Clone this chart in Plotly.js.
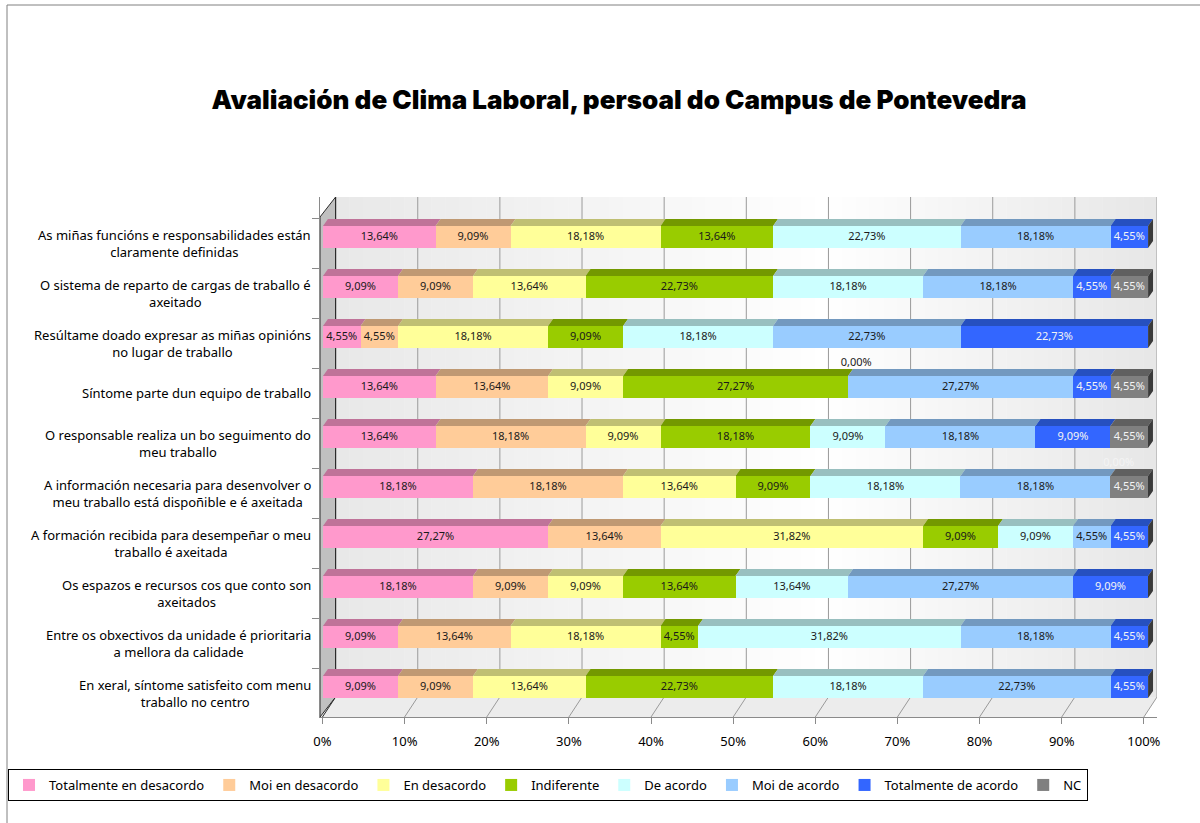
<!DOCTYPE html>
<html>
<head>
<meta charset="utf-8">
<script src="https://cdn.plot.ly/plotly-3.0.1.min.js"></script>
<style>html,body{margin:0;padding:0;background:#fff;}#chart{width:1200px;height:823px;}</style>
</head>
<body>
<div id="chart"></div>
<script>
// ---------- DATA ----------
const categories = [
  "As miñas funcións e responsabilidades están<br>claramente definidas",
  "O sistema de reparto de cargas de traballo é<br>axeitado",
  "Resúltame doado expresar as miñas opinións<br>no lugar de traballo",
  "Síntome parte dun equipo de traballo",
  "O responsable realiza un bo seguimento do<br>meu traballo",
  "A información necesaria para desenvolver o<br>meu traballo está dispoñible e é axeitada",
  "A formación recibida para desempeñar o meu<br>traballo é axeitada",
  "Os espazos e recursos cos que conto son<br>axeitados",
  "Entre os obxectivos da unidade é prioritaria<br>a mellora da calidade",
  "En xeral, síntome satisfeito com menu<br>traballo no centro"
];
const seriesNames = ["Totalmente en desacordo","Moi en desacordo","En desacordo","Indiferente","De acordo","Moi de acordo","Totalmente de acordo","NC"];
const totalmenteDesacordo = [13.64, 9.09, 4.55, 13.64, 13.64, 18.18, 27.27, 18.18, 9.09, 9.09];
const moiDesacordo        = [9.09, 9.09, 4.55, 13.64, 18.18, 18.18, 13.64, 9.09, 13.64, 9.09];
const enDesacordo         = [18.18, 13.64, 18.18, 9.09, 9.09, 13.64, 31.82, 9.09, 18.18, 13.64];
const indiferente         = [13.64, 22.73, 9.09, 27.27, 18.18, 9.09, 9.09, 13.64, 4.55, 22.73];
const deAcordo            = [22.73, 18.18, 18.18, 0, 9.09, 18.18, 9.09, 13.64, 31.82, 18.18];
const moiDeAcordo         = [18.18, 18.18, 22.73, 27.27, 18.18, 18.18, 4.55, 27.27, 18.18, 22.73];
const totalmenteAcordo    = [4.55, 4.55, 22.73, 4.55, 9.09, 0, 4.55, 9.09, 4.55, 4.55];
const nc                  = [null, 4.55, null, 4.55, 4.55, 4.55, null, null, null, null];
const xTicks = [0,10,20,30,40,50,60,70,80,90,100];
const xTickText = ["0%","10%","20%","30%","40%","50%","60%","70%","80%","90%","100%"];

// ---------- STYLE ----------
const series = [totalmenteDesacordo, moiDesacordo, enDesacordo, indiferente, deAcordo, moiDeAcordo, totalmenteAcordo, nc];
const frontColors = ["#ff99cc","#ffcc99","#ffff99","#99cc00","#ccffff","#99ccff","#3366ff","#808080"];
const topColors   = ["#bf7399","#bf9973","#bfbf73","#739900","#99bfbf","#7399bf","#2650bf","#606060"];
const textColors  = ["#1a1a1a","#1a1a1a","#1a1a1a","#1a1a1a","#1a1a1a","#1a1a1a","#f4f4f4","#f4f4f4"];
const FONT = "Noto Sans, Lato, sans-serif";
const BAR_W = 0.44, DX = 0.6, DY = 0.14;   // bar depth
const WDX = 1.6, WDY = 0.4;                // wall depth
const Y_TOP = -0.8, Y_BOT = 9.6, X_MIN = -0.3, X_MAX = 100 + WDX;
const rows = categories.map((_, j) => j);
const fmt = v => v.toFixed(2).replace('.', ',') + '%';

// ---------- WALLS (shapes, below traces) ----------
const shapes = [];
function hex(c){return [parseInt(c.slice(1,3),16),parseInt(c.slice(3,5),16),parseInt(c.slice(5,7),16)];}
function grad(stops, t){
  for (let i = 1; i < stops.length; i++) {
    if (t <= stops[i][0]) {
      const a = stops[i-1], b = stops[i], f = (t - a[0]) / (b[0] - a[0]);
      const ca = hex(a[1]), cb = hex(b[1]);
      return 'rgb(' + ca.map((v,k) => Math.round(v + (cb[k]-v)*f)).join(',') + ')';
    }
  }
  return stops[stops.length-1][1];
}
const wallStops = [[0,'#e8e8e8'],[0.6,'#ffffff'],[1,'#e6e6e6']];
const NS = 60, wx0 = WDX, wx1 = X_MAX;
for (let i = 0; i < NS; i++) {
  const a = wx0 + (wx1-wx0)*i/NS, b = wx0 + (wx1-wx0)*(i+1)/NS;
  shapes.push({type:'rect', xref:'x', yref:'y', x0:a, x1:Math.min(b+0.05, wx1), y0:Y_TOP, y1:Y_BOT-WDY,
    fillcolor:grad(wallStops, (i+0.5)/NS), line:{width:0}, layer:'below'});
}
// floor
shapes.push({type:'path', xref:'x', yref:'y', layer:'below', fillcolor:'#ececec', line:{width:0},
  path:`M${X_MIN},${Y_BOT} L100,${Y_BOT} L${100+WDX},${Y_BOT-WDY} L${WDX},${Y_BOT-WDY} Z`});
// left wall
shapes.push({type:'path', xref:'x', yref:'y', layer:'below', fillcolor:'#c0c0c0', line:{color:'#2a2a2a', width:1},
  path:`M${X_MIN},${Y_BOT} L${X_MIN},${Y_TOP+WDY} L${WDX},${Y_TOP} L${WDX},${Y_BOT-WDY} Z`});
// gridlines on wall and floor
xTicks.forEach(t => {
  shapes.push({type:'line', xref:'x', yref:'y', layer:'below', x0:t+WDX, x1:t+WDX, y0:Y_TOP, y1:Y_BOT-WDY,
    line:{color: t === 0 ? '#2a2a2a' : '#9a9a9a', width:1}});
  shapes.push({type:'line', xref:'x', yref:'y', layer:'below', x0:t, x1:t+WDX, y0:Y_BOT, y1:Y_BOT-WDY,
    line:{color: t === 0 ? '#2a2a2a' : '#9a9a9a', width:1}});
});

// ---------- TRACES (bars sit on a slightly deeper plane: x2) ----------
const traces = [];
series.forEach((vals, s) => {
  traces.push({type:'bar', orientation:'h', name:seriesNames[s], x:vals, y:rows, width:BAR_W, xaxis:'x2',
    marker:{color:frontColors[s], line:{width:0}}, textposition:'none', hoverinfo:'x+name'});
});
const cum = rows.map(() => 0);
const labelSets = [];
series.forEach((vals, s) => {
  const px = [], py = [], tx = [], ty = [], tt = [];
  vals.forEach((v, j) => {
    if (v === null) return;
    const a = cum[j], b = cum[j] + v;
    if (v > 0) {
      const y0 = j - BAR_W/2, y1 = y0 - DY;
      px.push(a, b, b+DX, a+DX, a, null);
      py.push(y0, y0, y1, y1, y0, null);
      tx.push((a+b)/2); ty.push(j);
    } else {
      tx.push(a + 1); ty.push(j - 0.48);
    }
    tt.push(fmt(v));
    cum[j] = b;
  });
  traces.push({type:'scatter', mode:'lines', x:px, y:py, xaxis:'x2', fill:'toself', fillcolor:topColors[s], line:{width:0},
    hoverinfo:'skip', showlegend:false});
  labelSets.push({x:tx, y:ty, text:tt});
});
const sx = [], sy = [];
rows.forEach(j => {
  const T = cum[j], yt = j - BAR_W/2, yb = j + BAR_W/2;
  sx.push(T, T+DX, T+DX, T, T, null);
  sy.push(yt, yt-DY, yb-DY, yb, yt, null);
});
traces.push({type:'scatter', mode:'lines', x:sx, y:sy, xaxis:'x2', fill:'toself', fillcolor:'#3a3a3a', line:{width:0}, hoverinfo:'skip', showlegend:false});
labelSets.forEach((Ls, s) => {
  traces.push({type:'scatter', mode:'text', x:Ls.x, y:Ls.y, text:Ls.text, xaxis:'x2', textposition:'middle center',
    textfont:{family:FONT, size:11, color:textColors[s]}, hoverinfo:'skip', showlegend:false, cliponaxis:false});
});

// ---------- LAYOUT ----------
const L = 320, R = 1157, T = 197, B = 717, W = 1200, H = 823;
const pw = R - L, ph = B - T;
const px2paper = p => (p - L) / pw;
const py2paper = p => (B - p) / ph;
// bar plane: 0% at 323px, 100% at 1148px
const barScale = (1148 - 323) / 100;
const x2Range = [(L - 323) / barScale, 100 + (R - 1148) / barScale];

const annotations = categories.map((c, j) => ({
  xref:'paper', yref:'y', x:px2paper(313), y:j + 0.12, text:c, showarrow:false,
  xanchor:'right', yanchor:'middle', align:'center', font:{family:FONT, size:13, color:'#000'}
}));

shapes.push({type:'rect', xref:'paper', yref:'paper', x0:px2paper(7), x1:px2paper(1215), y0:py2paper(5), y1:py2paper(840),
  line:{color:'#808080', width:1}, fillcolor:'rgba(0,0,0,0)', layer:'above'});

const layout = {
  width:W, height:H,
  margin:{l:L, r:W-R, t:T, b:H-B, pad:0, autoexpand:false},
  paper_bgcolor:'#ffffff', plot_bgcolor:'#ffffff',
  barmode:'stack', bargap:0,
  font:{family:FONT, color:'#000'},
  title:{text:'Avaliación de Clima Laboral, persoal do Campus de Pontevedra',
    font:{family:'Inter, DejaVu Sans, sans-serif', size:26, weight:900, color:'#000'},
    x:619/W, xanchor:'center', xref:'container', y:1-100/H, yanchor:'middle', yref:'container'},
  xaxis:{range:[X_MIN, X_MAX], tickvals:xTicks, ticktext:xTickText, showgrid:false, zeroline:false,
    showline:true, linecolor:'#8a8a8a', linewidth:1, ticks:'outside', ticklen:6, tickcolor:'#8a8a8a',
    tickfont:{family:FONT, size:13, color:'#000'}, ticklabelstandoff:6, fixedrange:true, automargin:false},
  xaxis2:{overlaying:'x', range:x2Range, visible:false, fixedrange:true, automargin:false},
  yaxis:{range:[Y_BOT, Y_TOP], tickvals:rows.concat([10]).map(k => k - 0.38), ticktext:rows.concat([10]).map(() => ''),
    showticklabels:false, showgrid:false, zeroline:false, showline:true, linecolor:'#8a8a8a', linewidth:1,
    ticks:'outside', ticklen:7, tickcolor:'#8a8a8a', fixedrange:true, automargin:false},
  showlegend:true,
  legend:{orientation:'h', x:px2paper(8), xanchor:'left', y:py2paper(769), yanchor:'top',
    bordercolor:'#000', borderwidth:1, bgcolor:'#fff', font:{family:FONT, size:13, color:'#000'},
    traceorder:'normal', itemwidth:30, itemclick:false, itemdoubleclick:false},
  annotations:annotations,
  shapes:shapes
};

Plotly.newPlot('chart', traces, layout, {displayModeBar:false, staticPlot:true});
</script>
</body>
</html>
